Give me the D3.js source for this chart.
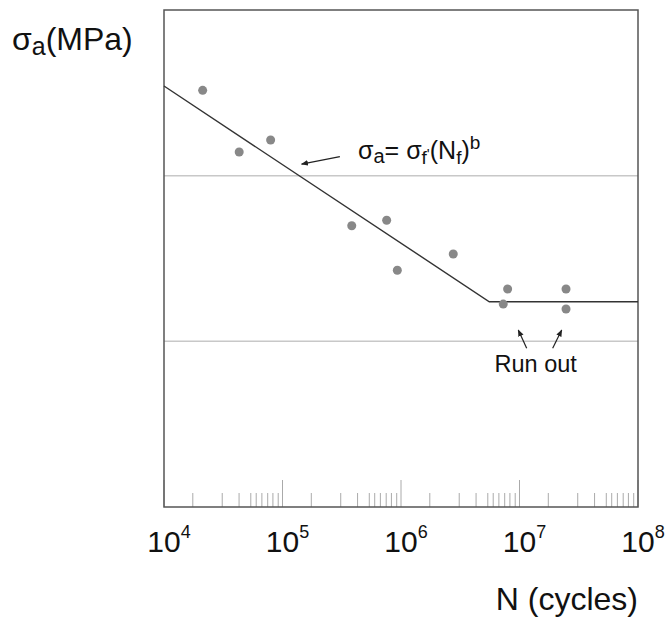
<!DOCTYPE html>
<html lang="en">
<head>
  <meta charset="UTF-8">
  <script src="https://d3js.org/d3.v7.min.js"></script>
  <title>S-N curve</title>
  <style>
    body {
      margin: 0;
      background-color: white;
      font-family: "Liberation Sans", Arial, sans-serif;
    }
  </style>
</head>
<body>
  <div id="chart"></div>
<script>
  // decades on the N axis, and the minor tick multipliers as drawn
  const decades = [1e4, 1e5, 1e6, 1e7, 1e8];
  const decadeExp = ["4", "5", "6", "7", "8"];
  const minorSteps = [1.75, 3.1, 4.3, 5.4, 6.0, 6.7, 7.5, 8.3, 9.2];

  // test points (arbitrary stress units)
  const testN = [2.12e4, 4.31e4, 7.94e4, 3.84e5, 7.57e5, 9.31e5, 2.76e6, 7.29e6, 7.94e6, 2.47e7, 2.47e7];
  const testStress = [2.515, 2.143, 2.215, 1.698, 1.731, 1.429, 1.527, 1.225, 1.316, 1.316, 1.195];

  // Basquin fit + endurance limit
  const fitN = [1e4, 5.56e6, 1e8];
  const fitStress = [2.541, 1.239, 1.239];

  const gridStress = [1, 2];

  // annotations
  const basquinArrow = [[3.05e5, 2.115], [1.45e5, 2.07]];
  const basquinText = [4.34e5, 2.1];
  const runOutArrows = [
    [[1.15e7, 0.958], [9.77e6, 1.068]],
    [[1.905e7, 0.958], [2.27e7, 1.068]]
  ];
  const runOutText = [1.37e7, 0.817];

  let margin = { top: 10, right: 31, bottom: 112, left: 164 },
    width = 669 - margin.left - margin.right,
    height = 619 - margin.top - margin.bottom;

  let svg = d3.select("#chart")
    .append("svg")
    .attr("width", 669)
    .attr("height", 619);

  svg.append("defs").append("marker")
    .attr("id", "head")
    .attr("viewBox", "0 0 10 10")
    .attr("refX", 9).attr("refY", 5)
    .attr("markerWidth", 7).attr("markerHeight", 7)
    .attr("markerUnits", "userSpaceOnUse")
    .attr("orient", "auto")
    .append("path")
    .attr("d", "M0,1 L10,5 L0,9 Z")
    .attr("fill", "#222");

  let g = svg.append("g")
    .attr("transform", `translate(${margin.left},${margin.top})`);

  let x = d3.scaleLog().domain([1e4, 1e8]).range([0, width]);
  let y = d3.scaleLinear().domain([0, 3]).range([height, 0]);

  // grid lines
  g.selectAll(".grid")
    .data(gridStress)
    .enter()
    .append("line")
    .attr("x1", 0).attr("x2", width)
    .attr("y1", d => y(d)).attr("y2", d => y(d))
    .attr("stroke", "#c8c8c8")
    .attr("stroke-width", 1.5);

  // ticks along bottom
  let minor = [];
  decades.slice(0, -1).forEach(d => minorSteps.forEach(m => minor.push(d * m)));

  g.selectAll(".minor")
    .data(minor)
    .enter()
    .append("line")
    .attr("x1", d => x(d)).attr("x2", d => x(d))
    .attr("y1", height - 14).attr("y2", height)
    .attr("stroke", "#aaa")
    .attr("stroke-width", 1);

  g.selectAll(".major")
    .data(decades)
    .enter()
    .append("line")
    .attr("x1", d => x(d)).attr("x2", d => x(d))
    .attr("y1", height - 27).attr("y2", height)
    .attr("stroke", "#aaa")
    .attr("stroke-width", 1);

  // frame
  g.append("rect")
    .attr("width", width).attr("height", height)
    .attr("fill", "none")
    .attr("stroke", "#555")
    .attr("stroke-width", 1.5);

  // fit line
  let line = d3.line()
    .x(d => x(d[0]))
    .y(d => y(d[1]));

  g.append("path")
    .datum(d3.zip(fitN, fitStress))
    .attr("d", line)
    .attr("fill", "none")
    .attr("stroke", "#333")
    .attr("stroke-width", 1.4);

  // data points
  g.selectAll(".pt")
    .data(d3.zip(testN, testStress))
    .enter()
    .append("circle")
    .attr("cx", d => x(d[0]))
    .attr("cy", d => y(d[1]))
    .attr("r", 4.5)
    .attr("fill", "#888");

  // Basquin annotation
  g.append("path")
    .datum(basquinArrow)
    .attr("d", line)
    .attr("stroke", "#222")
    .attr("stroke-width", 1.2)
    .attr("marker-end", "url(#head)");

  let eq = g.append("text")
    .attr("x", x(basquinText[0]))
    .attr("y", y(basquinText[1]))
    .attr("font-size", 25)
    .attr("fill", "#111");
  eq.append("tspan").text("σ");
  eq.append("tspan").attr("dy", 4).attr("font-size", 20).text("a");
  eq.append("tspan").attr("dy", -4).text("= σ");
  eq.append("tspan").attr("dy", 5).attr("font-size", 19).text("f");
  eq.append("tspan").attr("dy", -5).attr("font-size", 15).text("'");
  eq.append("tspan").text("(N");
  eq.append("tspan").attr("dy", 5).attr("font-size", 19).text("f");
  eq.append("tspan").attr("dy", -5).text(")");
  eq.append("tspan").attr("dy", -10).attr("font-size", 19).text("b");

  // run out annotation
  g.selectAll(".runout")
    .data(runOutArrows)
    .enter()
    .append("path")
    .attr("d", line)
    .attr("stroke", "#222")
    .attr("stroke-width", 1.2)
    .attr("marker-end", "url(#head)");

  g.append("text")
    .attr("x", x(runOutText[0]))
    .attr("y", y(runOutText[1]))
    .attr("text-anchor", "middle")
    .attr("font-size", 23.5)
    .attr("fill", "#111")
    .text("Run out");

  // decade labels
  let lab = g.selectAll(".dec")
    .data(decades)
    .enter()
    .append("text")
    .attr("x", d => x(d) + 5)
    .attr("y", height + 45)
    .attr("text-anchor", "middle")
    .attr("font-size", 30)
    .attr("fill", "#111");
  lab.append("tspan").text("10");
  lab.append("tspan")
    .attr("dy", -14)
    .attr("font-size", 18)
    .text((d, i) => decadeExp[i]);

  // axis titles
  g.append("text")
    .attr("x", width)
    .attr("y", height + 103)
    .attr("text-anchor", "end")
    .attr("font-size", 32)
    .attr("fill", "#111")
    .text("N (cycles)");

  let yl = svg.append("text")
    .attr("x", 12)
    .attr("y", 50)
    .attr("font-size", 32)
    .attr("fill", "#111");
  yl.append("tspan").text("σ");
  yl.append("tspan").attr("dy", 5).attr("font-size", 25).text("a");
  yl.append("tspan").attr("dy", -5).text("(MPa)");
</script>
</body>
</html>
